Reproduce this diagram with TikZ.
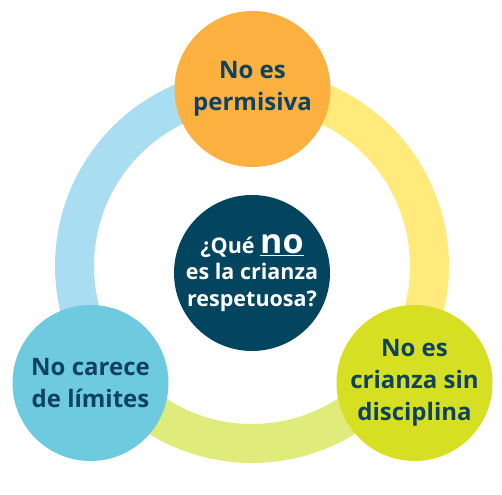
\documentclass[tikz,border=0pt]{standalone}
\usepackage{fontspec}
\setmainfont{Open Sans}
\usepackage{xcolor}
\usepackage{tikz}
\definecolor{ink}{HTML}{0D4262}
\definecolor{navy}{HTML}{03445F}
\definecolor{orangec}{HTML}{FBB03F}
\definecolor{bluec}{HTML}{6ECADF}
\definecolor{limec}{HTML}{D7DF23}
\definecolor{bluering}{HTML}{A9DDF2}
\definecolor{yellowring}{HTML}{FFEA7B}
\definecolor{limering}{HTML}{DFEB7B}
\tikzset{
  ring/.style={line width=39pt},
  bubble/.style={circle, minimum size=156pt, inner sep=0pt, align=center,
    text=ink, font=\bfseries\fontsize{24}{32}\selectfont},
  core/.style={circle, fill=navy, minimum size=156pt, inner sep=0pt, align=center,
    text=white, font=\bfseries\fontsize{21.5}{26.5}\selectfont},
}

\begin{document}
\begin{tikzpicture}[x=1pt,y=1pt]
  \useasboundingbox (0,0) rectangle (502,494);
  \def\r{177.5}
  \coordinate (M) at (252,228);

  % ring in three parts
  \draw[ring,draw=bluering] ([shift={(90:\r)}]M) arc[start angle=90, end angle=215, radius=\r];
  \draw[ring,draw=limering] ([shift={(215:\r)}]M) arc[start angle=215, end angle=325, radius=\r];
  \draw[ring,draw=yellowring] ([shift={(325:\r)}]M) arc[start angle=325, end angle=450, radius=\r];

  \node[core] (Q) at (252,221) {¿Qué \underline{\fontsize{34}{34}\selectfont no}\\es la crianza\\respetuosa?};

  \node[bubble,fill=orangec] (P) at (252.5,405) {No es\\permisiva};
  \node[bubble,fill=bluec] (L) at (90.5,111) {No carece\\de límites};
  \node[bubble,fill=limec] (D) at (414.5,111) {No es\\crianza sin\\disciplina};
\end{tikzpicture}
\end{document}
